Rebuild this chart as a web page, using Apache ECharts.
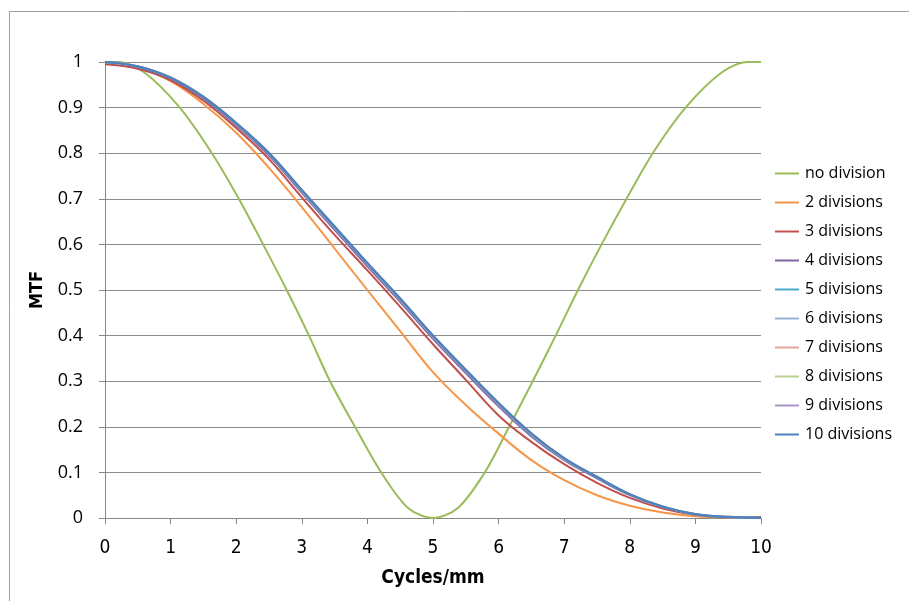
<!DOCTYPE html>
<html>
<head>
<meta charset="utf-8">
<script src="https://cdn.jsdelivr.net/npm/echarts@6/dist/echarts.min.js"></script>
<style>
  html, body { margin: 0; padding: 0; background: #fff; }
  #chart { width: 909px; height: 601px; }
</style>
</head>
<body>
<div id="chart"></div>
<script>
// ---- data ----
const xTicks = [0, 1, 2, 3, 4, 5, 6, 7, 8, 9, 10];
const yTicks = [0, 0.1, 0.2, 0.3, 0.4, 0.5, 0.6, 0.7, 0.8, 0.9, 1];

// frequencies shared by the divided curves (cycles/mm)
const freq = [0, 0.5, 1, 1.5, 2, 2.5, 3, 3.5, 4, 4.5, 5, 5.5, 6, 6.5, 7, 7.5, 8, 8.5, 9, 9.5, 10];

// no division: [cycles/mm, MTF] pairs
const noDivision = [
  [0, 1], [0.2, 1], [0.6, 0.977], [1.14, 0.9], [1.63, 0.8], [2.04, 0.7], [2.41, 0.6],
  [2.77, 0.5], [3.11, 0.4], [3.43, 0.3], [3.81, 0.2], [4.21, 0.1], [4.62, 0.022], [5, 0],
  [5.38, 0.022], [5.79, 0.1], [6.16, 0.2], [6.52, 0.3], [6.87, 0.4], [7.21, 0.5],
  [7.57, 0.6], [7.95, 0.7], [8.35, 0.8], [8.85, 0.9], [9.4, 0.977], [9.8, 1], [10, 1]
];

const div2  = [1.0, 0.988, 0.958, 0.908, 0.845, 0.768, 0.682, 0.591, 0.50, 0.41, 0.32, 0.248, 0.185, 0.127, 0.083, 0.05, 0.027, 0.012, 0.004, 0.001, 0.0];
const div3  = [0.995, 0.985, 0.96, 0.915, 0.855, 0.787, 0.703, 0.621, 0.543, 0.463, 0.381, 0.303, 0.225, 0.167, 0.118, 0.077, 0.044, 0.021, 0.007, 0.003, 0.002];
const div4  = [1.0, 0.989, 0.964, 0.92, 0.861, 0.795, 0.713, 0.632, 0.552, 0.474, 0.393, 0.318, 0.245, 0.179, 0.127, 0.087, 0.05, 0.024, 0.008, 0.002, 0.0];
const div5  = [1.0, 0.99, 0.966, 0.923, 0.864, 0.798, 0.716, 0.636, 0.556, 0.478, 0.397, 0.322, 0.249, 0.182, 0.129, 0.089, 0.051, 0.025, 0.008, 0.002, 0.0];
const div6  = [1.0, 0.99, 0.966, 0.924, 0.865, 0.799, 0.717, 0.637, 0.557, 0.479, 0.398, 0.323, 0.25, 0.183, 0.13, 0.089, 0.051, 0.025, 0.008, 0.002, 0.0];
const div7  = [1.0, 0.99, 0.965, 0.923, 0.864, 0.799, 0.717, 0.637, 0.557, 0.479, 0.398, 0.323, 0.25, 0.184, 0.13, 0.09, 0.051, 0.025, 0.008, 0.002, 0.0];
const div8  = [1.0, 0.99, 0.966, 0.924, 0.865, 0.8, 0.718, 0.638, 0.558, 0.48, 0.399, 0.324, 0.251, 0.184, 0.13, 0.09, 0.052, 0.025, 0.008, 0.002, 0.0];
const div9  = [1.0, 0.99, 0.965, 0.923, 0.865, 0.799, 0.718, 0.638, 0.558, 0.48, 0.399, 0.324, 0.251, 0.185, 0.131, 0.09, 0.052, 0.025, 0.008, 0.002, 0.0];
const div10 = [1.0, 0.99, 0.965, 0.923, 0.866, 0.8, 0.719, 0.639, 0.559, 0.481, 0.40, 0.325, 0.252, 0.185, 0.131, 0.09, 0.052, 0.025, 0.008, 0.002, 0.0];

const seriesNames = ["no division", "2 divisions", "3 divisions", "4 divisions", "5 divisions",
  "6 divisions", "7 divisions", "8 divisions", "9 divisions", "10 divisions"];
const seriesColors = ["#9bbb59", "#f79646", "#c0504d", "#8064a2", "#4bacc6",
  "#95b3d7", "#e6a3a1", "#b9d18c", "#a996c4", "#4f81bd"];

// ---- chart ----
const narrow = "'Liberation Sans Narrow', 'DejaVu Sans Condensed', 'Liberation Sans', sans-serif";
const axisGray = "#868686";

function pairs(ys) { return freq.map((f, i) => [f, ys[i]]); }

const lineData = [noDivision, pairs(div2), pairs(div3), pairs(div4), pairs(div5),
  pairs(div6), pairs(div7), pairs(div8), pairs(div9), pairs(div10)];

const series = seriesNames.map((name, i) => ({
  name,
  type: "line",
  data: lineData[i],
  smooth: i === 0 ? 0.3 : 0.4,
  symbol: "none",
  lineStyle: { width: i === 9 ? 2.5 : 2, color: seriesColors[i] },
  itemStyle: { color: seriesColors[i] },
  z: 2 + i,
}));

const chart = echarts.init(document.getElementById("chart"), null, { renderer: "canvas" });
chart.setOption({
  animation: false,
  backgroundColor: "#fff",
  graphic: [{
    type: "rect",
    shape: { x: 9.5, y: 11.5, width: 1000, height: 700 },
    style: { fill: "none", stroke: "#a0a0a0", lineWidth: 1 },
    silent: true,
  }],
  grid: { left: 105, right: 148, top: 62, bottom: 83 },
  legend: {
    orient: "vertical",
    left: 770,
    top: 160,
    icon: "rect",
    itemWidth: 24,
    itemHeight: 2,
    itemGap: 12,
    data: seriesNames,
    textStyle: { fontFamily: "'Open Sans', sans-serif", fontSize: 16, color: "#000", lineHeight: 17, padding: [0, 0, 0, 1] },
  },
  xAxis: {
    type: "value",
    min: xTicks[0],
    max: xTicks[xTicks.length - 1],
    interval: 1,
    name: "Cycles/mm",
    nameLocation: "middle",
    nameGap: 51,
    nameTextStyle: { fontFamily: narrow, fontWeight: "bold", fontSize: 19, color: "#000" },
    axisLine: { show: true, lineStyle: { color: axisGray, width: 1 } },
    axisTick: { show: true, length: 6, lineStyle: { color: axisGray } },
    axisLabel: { fontFamily: narrow, fontSize: 19, color: "#000", margin: 21 },
    splitLine: { show: false },
  },
  yAxis: {
    type: "value",
    min: yTicks[0],
    max: yTicks[yTicks.length - 1],
    interval: 0.1,
    name: "MTF",
    nameLocation: "middle",
    nameGap: 56,
    nameTextStyle: { fontFamily: narrow, fontWeight: "bold", fontSize: 18, color: "#000" },
    axisLine: { show: true, lineStyle: { color: axisGray, width: 1 } },
    axisTick: { show: true, length: 6, lineStyle: { color: axisGray } },
    axisLabel: {
      fontFamily: "'Open Sans', sans-serif", fontSize: 18, color: "#000", margin: 22,
      formatter: v => String(Math.round(v * 10) / 10),
    },
    splitLine: { show: true, lineStyle: { color: "#8c8c8c", width: 1 } },
  },
  series,
});
</script>
</body>
</html>
